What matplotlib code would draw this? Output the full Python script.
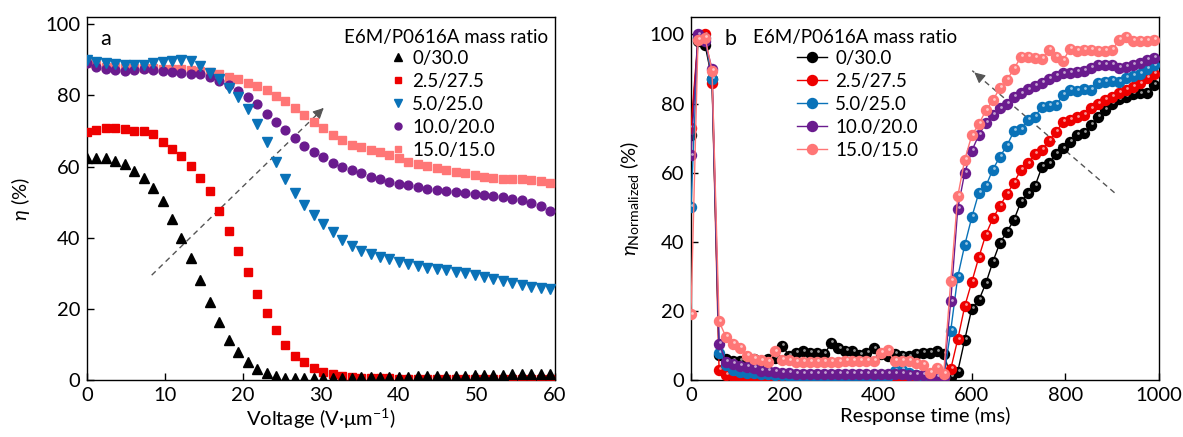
import numpy as np
import matplotlib
matplotlib.use("Agg")
import matplotlib.pyplot as plt
from matplotlib.transforms import offset_copy

plt.rcParams['font.family'] = ['Lato', 'DejaVu Sans']
plt.rcParams['mathtext.fontset'] = 'custom'
plt.rcParams['mathtext.rm'] = 'Lato'
plt.rcParams['mathtext.it'] = 'Lato:italic'
plt.rcParams['font.size'] = 14.5

# --------------------
# DATA
# --------------------
labels = ["0/30.0", "2.5/27.5", "5.0/25.0", "10.0/20.0", "15.0/15.0"]
colors = ["#000000", "#ee0000", "#0a72b8", "#6a1b8e", "#ff7676"]
legend_title = "E6M/P0616A mass ratio"

# panel a: efficiency vs voltage
voltage = np.round(np.arange(50) * 1.212, 2)
eta_a = {
    "0/30.0": [62.5, 62.5, 62.3, 61.5, 60.6, 58.8, 56.8, 54.0, 50.3, 45.4,
               39.8, 34.2, 28.1, 22.0, 16.4, 11.4, 7.8, 5.1, 3.1, 1.9,
               1.1, 0.7, 0.6, 0.6, 0.6, 0.6, 0.7, 0.7, 0.7, 0.8,
               0.8, 0.9, 0.9, 1.0, 1.0, 1.1, 1.1, 1.2, 1.2, 1.3,
               1.3, 1.4, 1.4, 1.5, 1.5, 1.6, 1.6, 1.7, 1.7, 1.8],
    "2.5/27.5": [69.8, 70.2, 70.7, 70.7, 70.5, 69.9, 69.9, 69.1, 66.8, 64.8,
                 63.0, 60.2, 56.9, 53.0, 47.4, 42.0, 36.2, 30.3, 24.3, 18.8,
                 14.0, 10.0, 6.8, 5.0, 3.4, 2.3, 1.7, 1.2, 0.9, 0.7,
                 0.6, 0.5, 0.5, 0.4, 0.4, 0.4, 0.4, 0.4, 0.4, 0.4,
                 0.4, 0.4, 0.4, 0.4, 0.4, 0.4, 0.4, 0.4, 0.4, 0.4],
    "5.0/25.0": [89.9, 89.4, 89.0, 88.7, 88.4, 88.4, 88.4, 89.0, 89.3, 89.7,
                 89.8, 89.7, 88.3, 86.3, 84.6, 82.1, 79.6, 76.3, 71.9, 66.8,
                 61.3, 56.5, 52.6, 49.2, 46.3, 44.0, 41.5, 39.3, 37.6, 36.3,
                 35.4, 34.6, 33.9, 33.1, 32.6, 32.1, 31.6, 31.3, 30.9, 30.4,
                 30.0, 29.5, 29.0, 28.5, 27.8, 27.3, 26.7, 26.2, 25.9, 25.5],
    "10.0/20.0": [89.0, 88.0, 87.4, 87.1, 86.8, 87.1, 87.3, 87.1, 86.9, 86.6,
                  86.4, 86.1, 85.9, 85.2, 84.0, 82.9, 81.3, 79.6, 77.7, 74.9,
                  72.6, 70.2, 67.9, 65.8, 64.1, 62.7, 61.1, 59.9, 59.0, 58.1,
                  57.1, 56.5, 55.7, 55.2, 54.7, 54.3, 53.8, 53.4, 53.1, 52.9,
                  52.7, 52.4, 52.1, 51.8, 51.4, 50.9, 50.5, 49.8, 48.9, 47.6],
    "15.0/15.0": [89.0, 88.5, 88.0, 88.0, 87.8, 87.7, 87.7, 87.7, 87.5, 87.4,
                  87.3, 87.1, 86.9, 86.6, 86.0, 85.2, 84.5, 83.6, 82.6, 81.4,
                  79.9, 78.4, 76.5, 74.4, 72.6, 70.7, 69.0, 67.4, 66.2, 65.4,
                  64.6, 64.0, 63.2, 62.3, 61.3, 60.7, 60.1, 59.5, 59.0, 58.5,
                  58.1, 57.6, 57.1, 56.9, 56.6, 56.5, 56.4, 56.2, 55.9, 55.4],
}
markers_a = ["^", "s", "v", "o", "s"]
msize_a = [6.5, 5.2, 6.5, 6.3, 5.2]

# panel b: normalized efficiency vs response time
resp_time = np.arange(67) * 15
eta_b = {
    "0/30.0": [71, 98, 97, 87, 7.2, 6.0, 5.5, 5.5, 6.0, 6.0,
               5.5, 6.0, 6.5, 10.0, 7.0, 8.0, 8.3, 8.0, 8.0, 7.6,
               10.7, 9.2, 8.5, 8.3, 7.3, 8.0, 9.2, 7.7, 7.0, 7.5,
               7.0, 6.9, 7.5, 8.0, 8.0, 8.3, 7.7, 1.0, 2.5, 11.7,
               20.7, 23.1, 28.0, 34.2, 39.7, 42.9, 46.3, 51.6, 54.0, 56.1,
               61.7, 62.7, 65.4, 67.0, 68.9, 70.9, 71.4, 73.8, 76.2, 78.1,
               80.0, 81.2, 82.0, 82.7, 82.9, 83.1, 85.3],
    "2.5/27.5": [73, 99, 100, 86, 3.0, 1.5, 1.2, 1.0, 0.8, 0.7,
                 0.6, 0.5, 0.5, 0.5, 0.5, 0.5, 0.5, 0.5, 0.5, 0.5,
                 0.5, 0.5, 0.5, 0.5, 0.5, 0.5, 0.5, 0.5, 0.5, 0.5,
                 0.5, 0.5, 0.5, 0.5, 0.5, 0.5, 0.5, 3.2, 11.8, 21.4,
                 28.4, 35.5, 42.1, 46.8, 50.3, 53.8, 57.1, 60.8, 62.7, 65.4,
                 66.7, 69.2, 71.8, 74.7, 75.2, 76.0, 76.7, 78.6, 79.8, 81.0,
                 82.0, 83.1, 83.9, 84.9, 85.8, 87.3, 88.5],
    "5.0/25.0": [50, 99, 99, 87, 8.0, 4.5, 3.0, 2.5, 2.2, 2.0,
                 1.8, 1.8, 1.6, 1.5, 1.3, 1.3, 1.3, 1.3, 1.3, 1.3,
                 1.3, 1.3, 1.3, 1.3, 1.3, 1.3, 1.3, 1.3, 1.3, 2.7,
                 2.9, 2.0, 1.5, 1.2, 1.0, 0.8, 0.8, 14.3, 29.9, 39.1,
                 47.1, 54.2, 56.1, 60.9, 64.6, 67.8, 72.0, 72.5, 75.2, 76.2,
                 79.1, 79.3, 79.6, 82.4, 83.9, 83.7, 84.1, 83.9, 86.0, 86.3,
                 86.6, 86.3, 87.3, 87.9, 88.5, 90.0, 91.0],
    "10.0/20.0": [65, 100, 98, 90, 10.5, 5.2, 4.8, 4.2, 3.8, 3.5,
                  2.8, 2.6, 2.4, 2.1, 2.0, 1.9, 1.8, 1.8, 1.8, 1.8,
                  1.8, 1.8, 1.8, 1.8, 1.8, 1.8, 1.8, 1.8, 1.8, 1.8,
                  1.8, 1.5, 1.5, 1.5, 1.3, 1.0, 0.8, 22.8, 49.6, 60.0,
                  66.3, 70.9, 74.3, 76.7, 78.6, 80.0, 82.0, 82.9, 84.1, 85.0,
                  86.0, 87.0, 88.0, 88.7, 88.9, 89.2, 89.5, 90.2, 91.1, 91.1,
                  91.1, 90.2, 90.6, 91.1, 91.6, 92.6, 93.3],
    "15.0/15.0": [19, 98.5, 99, 89.5, 17.0, 12.4, 10.5, 9.3, 7.1, 6.1,
                  5.7, 5.3, 8.3, 5.9, 5.7, 5.2, 5.4, 5.2, 5.2, 5.2,
                  5.2, 5.2, 5.5, 5.5, 5.5, 5.5, 5.5, 7.9, 8.6, 5.5,
                  5.5, 5.5, 5.0, 4.5, 2.1, 3.5, 1.9, 28.7, 53.2, 63.8,
                  70.8, 74.0, 78.0, 80.9, 84.5, 86.8, 90.0, 93.5, 93.4, 93.2,
                  92.9, 95.5, 93.5, 92.4, 95.8, 95.3, 95.5, 95.5, 95.3, 95.3,
                  95.5, 98.4, 99.3, 98.2, 98.2, 98.2, 98.4],
}

# trend arrows (start, end) in data units
arrow_a = ((8.3, 29.5), (30.6, 77.0))
arrow_b = ((905, 54.2), (601, 89.5))

# --------------------
# PLOTTING
# --------------------
W, H = 1183, 437
fig = plt.figure(figsize=(W / 100, H / 100), dpi=100)
ax1 = fig.add_axes([0.0735, 0.130, 0.3956, 0.831])
ax2 = fig.add_axes([0.5841, 0.130, 0.3956, 0.831])

for ax in (ax1, ax2):
    ax.tick_params(direction='in', length=5, width=1, top=False, right=False, pad=5)
    for s in ax.spines.values():
        s.set_linewidth(1)


def trend_arrow(ax, start, end):
    ax.plot([start[0], end[0]], [start[1], end[1]], '--', color='#555555', lw=1, dashes=(4, 3))
    ax.annotate('', xy=end, xytext=(start[0] + 0.93 * (end[0] - start[0]),
                                    start[1] + 0.93 * (end[1] - start[1])),
                arrowprops=dict(arrowstyle='-|>', color='#555555', lw=0.8, mutation_scale=16))


LEG_FS = 13.5

# panel a
handles = []
for i, lab in enumerate(labels):
    h, = ax1.plot(voltage, eta_a[lab], linestyle='none', marker=markers_a[i], ms=msize_a[i],
                  color=colors[i], mec=colors[i], zorder=10 - i, label=lab)
    handles.append(h)
trend_arrow(ax1, *arrow_a)
ax1.set_xlim(0, 60)
ax1.set_ylim(0, 102)
ax1.set_xticks(range(0, 61, 10))
ax1.set_yticks(range(0, 101, 20))
ax1.set_xlabel('Voltage (V·μm$^{-1}$)', labelpad=2)
ax1.set_ylabel(r'$\it{\eta}$ (%)', labelpad=9)
ax1.text(0.028, 0.94, 'a', transform=ax1.transAxes, fontsize=15.5, va='center')
fig.text(548 / W, 1 - 37 / H, legend_title, fontsize=LEG_FS, ha='right', va='center')
ax1.legend(handles=handles, loc='upper left', frameon=False,
           bbox_to_anchor=(392 / W, 1 - 50 / H), bbox_transform=fig.transFigure,
           borderaxespad=0, borderpad=0, handlelength=0.6, handletextpad=0.48,
           labelspacing=0.32, markerscale=0.8, fontsize=LEG_FS)

# panel b
handles = []
for i, lab in enumerate(labels):
    h, = ax2.plot(resp_time, eta_b[lab], '-o', lw=1, ms=7.2, color=colors[i], mec=colors[i],
                  zorder=3 + i, label=lab)
    shine = offset_copy(ax2.transData, fig=fig, x=0.8, y=1.3, units='points')
    ax2.plot(resp_time, eta_b[lab], 'o', ms=2.0, mfc='white', mec='none', alpha=0.6,
             transform=shine, zorder=3.5 + i)
    handles.append(h)
trend_arrow(ax2, *arrow_b)
ax2.set_xlim(0, 1000)
ax2.set_ylim(0, 105)
ax2.set_xticks(range(0, 1001, 200))
ax2.set_yticks(range(0, 101, 20))
ax2.set_xlabel('Response time (ms)', labelpad=2)
ax2.set_ylabel(r'$\it{\eta}_{\mathrm{Normalized}}$ (%)', labelpad=6)
ax2.text(0.072, 0.94, 'b', transform=ax2.transAxes, fontsize=15.5, va='center')
fig.text(753 / W, 1 - 37 / H, legend_title, fontsize=LEG_FS, ha='left', va='center')
ax2.legend(handles=handles, loc='upper left', frameon=False,
           bbox_to_anchor=(797 / W, 1 - 50 / H), bbox_transform=fig.transFigure,
           borderaxespad=0, borderpad=0, handlelength=1.6, handletextpad=0.43,
           labelspacing=0.32, fontsize=LEG_FS)

fig.savefig('out.png', dpi=100)
